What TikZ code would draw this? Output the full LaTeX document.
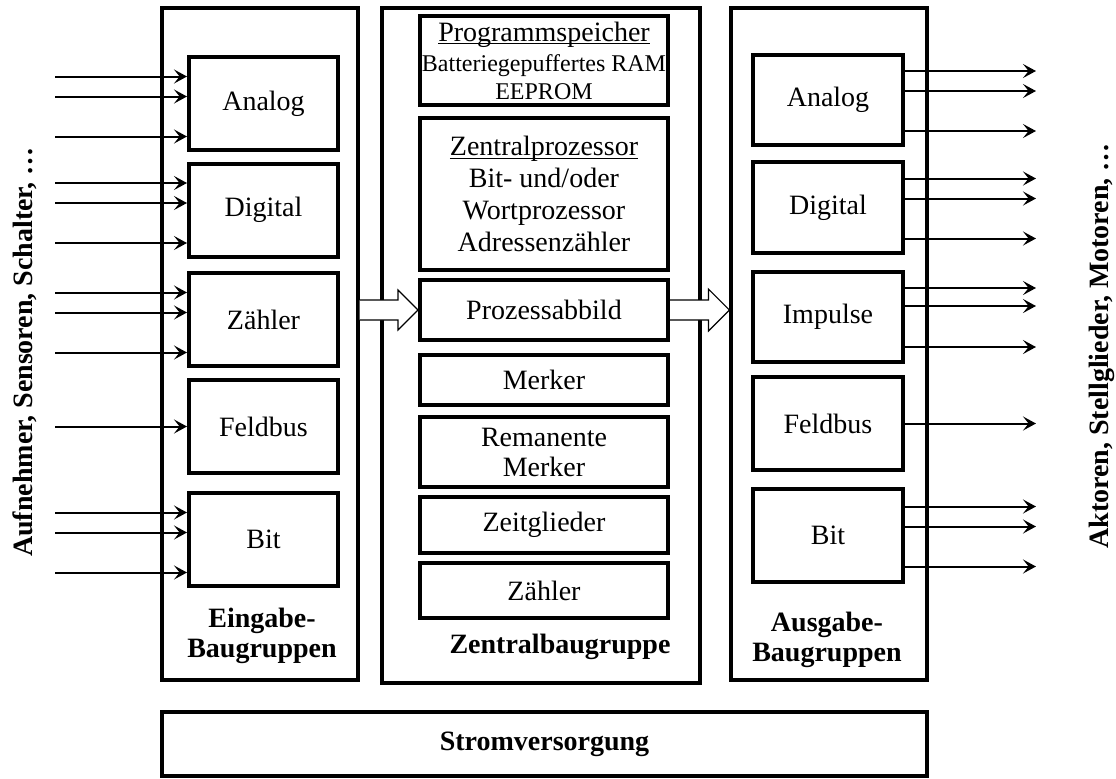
\documentclass[tikz,border=0pt]{standalone}
\usepackage{fontspec}
\setmainfont{Liberation Serif}
\usetikzlibrary{calc,arrows.meta}

\newcommand{\ustrich}[1]{\setbox0\hbox{#1}\rlap{\rule[-1.6pt]{\wd0}{0.6pt}}\box0}

\begin{document}
\begin{tikzpicture}[x=0.5pt,y=-0.5pt,
	baugruppe/.style={draw,line width=1.6pt,rectangle,inner sep=0pt},
	modul/.style={draw,line width=2pt,rectangle,align=center,inner sep=1pt,font=\fontsize{14}{16}\selectfont},
	sig/.style={line width=1pt,-{Stealth[length=6.5pt,width=7pt,inset=2.8pt]}},
	hohl/.style={line width=0.6pt,fill=white},
	titel/.style={align=center,font=\bfseries\fontsize{14}{15}\selectfont}]
	
	\useasboundingbox (0,0) rectangle (1116,778);
	
	\node[baugruppe,minimum width=98pt,minimum height=336pt] (eingabe)
	at (260,344) {};
	\node[modul,minimum width=74.5pt,minimum height=46.5pt] (ein1)
	at (263.5,103.5) {Analog};
	\node[modul,minimum width=74.5pt,minimum height=46.5pt] (ein2)
	at (263.5,210) {Digital};
	\node[modul,minimum width=74.5pt,minimum height=46.5pt] (ein3)
	at (263.5,319.5) {Zähler};
	\node[modul,minimum width=74.5pt,minimum height=46.5pt] (ein4)
	at (263.5,426.5) {Feldbus};
	\node[modul,minimum width=74.5pt,minimum height=46.5pt] (ein5)
	at (263.5,539.5) {Bit};
	\node[titel] (eintitel)
	at (262,636) {Eingabe-\\Baugruppen};
	
	\node[baugruppe,minimum width=159pt,minimum height=337.5pt] (zentral)
	at (541,345.5) {};
	\node[modul,minimum width=124pt,minimum height=44.5pt] (speicher)
	at (544,60.5) {\ustrich{Programmspeicher}\\[-1pt]{\fontsize{12}{13.5}\selectfont Batteriegepuffertes RAM}\\[-2pt]{\fontsize{12}{13.5}\selectfont EEPROM}};
	\node[modul,minimum width=124pt,minimum height=76pt] (cpu)
	at (544,194) {\ustrich{Zentralprozessor}\\Bit- und/oder\\Wortprozessor\\Adressenzähler};
	\node[modul,minimum width=124pt,minimum height=30pt] (abbild)
	at (544,310) {Prozessabbild};
	\node[modul,minimum width=124pt,minimum height=25pt] (merker)
	at (544,380) {Merker};
	\node[modul,minimum width=124pt,minimum height=35pt] (remanent)
	at (544,452) {Remanente\\[-1pt]Merker};
	\node[modul,minimum width=124pt,minimum height=28pt] (zeit)
	at (544,525) {Zeitglieder};
	\node[modul,minimum width=124pt,minimum height=27.5pt] (zaehler)
	at (544,590.5) {Zähler};
	\node[titel] (zenttitel)
	at (560,647) {Zentralbaugruppe};
	
	\node[baugruppe,minimum width=98pt,minimum height=336pt] (ausgabe)
	at (829,344) {};
	\node[modul,minimum width=75pt,minimum height=45pt] (aus1)
	at (828,100) {Analog};
	\node[modul,minimum width=75pt,minimum height=45.5pt] (aus2)
	at (828,207.5) {Digital};
	\node[modul,minimum width=75pt,minimum height=45pt] (aus3)
	at (828,317) {Impulse};
	\node[modul,minimum width=75pt,minimum height=46.5pt] (aus4)
	at (828,423.5) {Feldbus};
	\node[modul,minimum width=75pt,minimum height=46.5pt] (aus5)
	at (828,535.5) {Bit};
	\node[titel] (austitel)
	at (827,640) {Ausgabe-\\Baugruppen};
	
	\node[baugruppe,minimum width=382.5pt,minimum height=32pt,font=\bfseries\fontsize{14}{16}\selectfont] (strom)
	at (544.5,744) {Stromversorgung};
	
	\node[titel,rotate=90] (sensoren)
	at (25,352) {Aufnehmer, Sensoren, Schalter, \dots};
	\node[titel,rotate=90] (aktoren)
	at (1102,346) {Aktoren, Stellglieder, Motoren, \dots};
	
	\coordinate (einspeisung) at (55,0);
	\coordinate (ausspeisung) at (1036,0);
	
	% Eingaenge
	\draw[sig] ($(einspeisung |- ein1.west)+(0,-27)$) -- ($(ein1.west)+(0,-27)$);
	\draw[sig] ($(einspeisung |- ein1.west)+(0,-7)$) -- ($(ein1.west)+(0,-7)$);
	\draw[sig] ($(einspeisung |- ein1.west)+(0,33)$) -- ($(ein1.west)+(0,33)$);
	\draw[sig] ($(einspeisung |- ein2.west)+(0,-27)$) -- ($(ein2.west)+(0,-27)$);
	\draw[sig] ($(einspeisung |- ein2.west)+(0,-7)$) -- ($(ein2.west)+(0,-7)$);
	\draw[sig] ($(einspeisung |- ein2.west)+(0,33)$) -- ($(ein2.west)+(0,33)$);
	\draw[sig] ($(einspeisung |- ein3.west)+(0,-27)$) -- ($(ein3.west)+(0,-27)$);
	\draw[sig] ($(einspeisung |- ein3.west)+(0,-7)$) -- ($(ein3.west)+(0,-7)$);
	\draw[sig] ($(einspeisung |- ein3.west)+(0,33)$) -- ($(ein3.west)+(0,33)$);
	\draw[sig] (einspeisung |- ein4.west) -- (ein4.west);
	\draw[sig] ($(einspeisung |- ein5.west)+(0,-27)$) -- ($(ein5.west)+(0,-27)$);
	\draw[sig] ($(einspeisung |- ein5.west)+(0,-7)$) -- ($(ein5.west)+(0,-7)$);
	\draw[sig] ($(einspeisung |- ein5.west)+(0,33)$) -- ($(ein5.west)+(0,33)$);
	
	% Ausgaenge
	\draw[sig] ($(aus1.east)+(0,-29)$) -- ($(ausspeisung |- aus1.east)+(0,-29)$);
	\draw[sig] ($(aus1.east)+(0,-9)$) -- ($(ausspeisung |- aus1.east)+(0,-9)$);
	\draw[sig] ($(aus1.east)+(0,31)$) -- ($(ausspeisung |- aus1.east)+(0,31)$);
	\draw[sig] ($(aus2.east)+(0,-29)$) -- ($(ausspeisung |- aus2.east)+(0,-29)$);
	\draw[sig] ($(aus2.east)+(0,-9)$) -- ($(ausspeisung |- aus2.east)+(0,-9)$);
	\draw[sig] ($(aus2.east)+(0,31)$) -- ($(ausspeisung |- aus2.east)+(0,31)$);
	\draw[sig] ($(aus3.east)+(0,-29)$) -- ($(ausspeisung |- aus3.east)+(0,-29)$);
	\draw[sig] ($(aus3.east)+(0,-11)$) -- ($(ausspeisung |- aus3.east)+(0,-11)$);
	\draw[sig] ($(aus3.east)+(0,30)$) -- ($(ausspeisung |- aus3.east)+(0,30)$);
	\draw[sig] (aus4.east) -- (ausspeisung |- aus4.east);
	\draw[sig] ($(aus5.east)+(0,-29)$) -- ($(ausspeisung |- aus5.east)+(0,-29)$);
	\draw[sig] ($(aus5.east)+(0,-9)$) -- ($(ausspeisung |- aus5.east)+(0,-9)$);
	\draw[sig] ($(aus5.east)+(0,31)$) -- ($(ausspeisung |- aus5.east)+(0,31)$);
	
	% Blockpfeile zum/vom Prozessabbild
	\draw[hohl] ($(eingabe.east |- abbild)+(0,-10)$) -- ($(abbild.west)+(-20,-10)$)
	-- ($(abbild.west)+(-20,-20)$) -- (abbild.west) -- ($(abbild.west)+(-20,20)$)
	-- ($(abbild.west)+(-20,10)$) -- ($(eingabe.east |- abbild)+(0,10)$);
	\draw[hohl] ($(abbild.east)+(0,-10)$) -- ($(ausgabe.west |- abbild)+(-21,-10)$)
	-- ($(ausgabe.west |- abbild)+(-21,-21)$) -- (ausgabe.west |- abbild) -- ($(ausgabe.west |- abbild)+(-21,21)$)
	-- ($(ausgabe.west |- abbild)+(-21,10)$) -- ($(abbild.east)+(0,10)$);
\end{tikzpicture}
\end{document}
